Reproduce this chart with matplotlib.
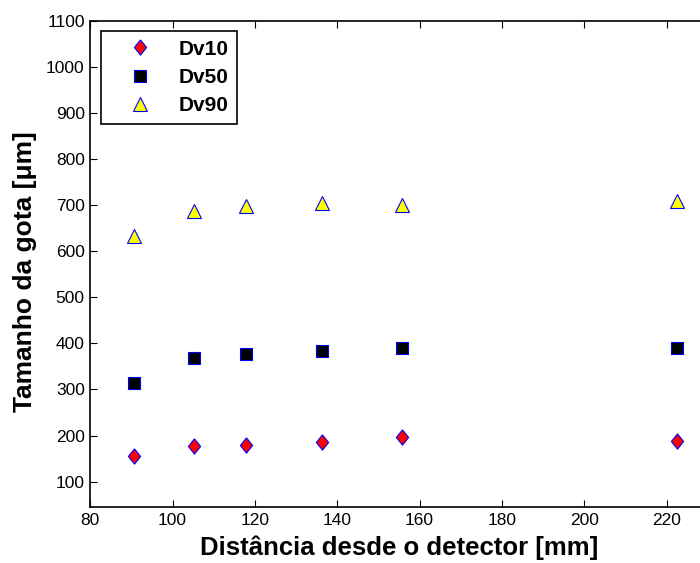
import matplotlib.pyplot as plt

plt.rcParams['font.family'] = ['Liberation Sans', 'DejaVu Sans']

distancia = [90.5, 105.3, 117.8, 136.2, 155.8, 222.5]
dv10 = [156, 177, 180, 187, 196, 188]
dv50 = [315, 368, 377, 383, 389, 390]
dv90 = [633, 688, 698, 704, 701, 710]

# losango um pouco mais alto que largo (estilo matlab)
losango = [(0, 1), (0.8, 0), (0, -1), (-0.8, 0), (0, 1)]

fig = plt.figure(figsize=(7, 5.63), dpi=100)
ax = fig.add_axes([0.129, 0.0995, 0.882, 0.8635])

ax.plot(distancia, dv10, linestyle='none', marker=losango, ms=11, mfc='red', mec='blue', mew=0.8, label='Dv10')
ax.plot(distancia, dv50, 's', ms=9, mfc='black', mec='blue', mew=0.8, label='Dv50')
ax.plot(distancia, dv90, '^', ms=10.5, mfc='yellow', mec='blue', mew=0.8, label='Dv90')

ax.set_xlim(80, 230)
ax.set_ylim(45, 1100)
ax.set_xticks(range(80, 221, 20))
ax.set_yticks(range(100, 1101, 100))
ax.tick_params(direction='in', top=True, right=True, labelsize=12.5, length=5, pad=4)
for s in ax.spines.values():
    s.set_linewidth(1.2)

ax.set_xlabel('Distância desde o detector [mm]', fontsize=18.5, fontweight='bold', labelpad=6)
ax.set_ylabel('Tamanho da gota [μm]', fontsize=19, fontweight='bold')
ax.yaxis.set_label_coords(-0.086, 0.485)

leg = ax.legend(loc='upper left', prop={'weight': 'bold', 'size': 15},
                fancybox=False, edgecolor='black', framealpha=1,
                borderaxespad=0.5, handlelength=3.0, handletextpad=0.35,
                borderpad=0.4, labelspacing=0.45)
leg.get_frame().set_linewidth(1.2)

fig.savefig('out.png', dpi=100)
